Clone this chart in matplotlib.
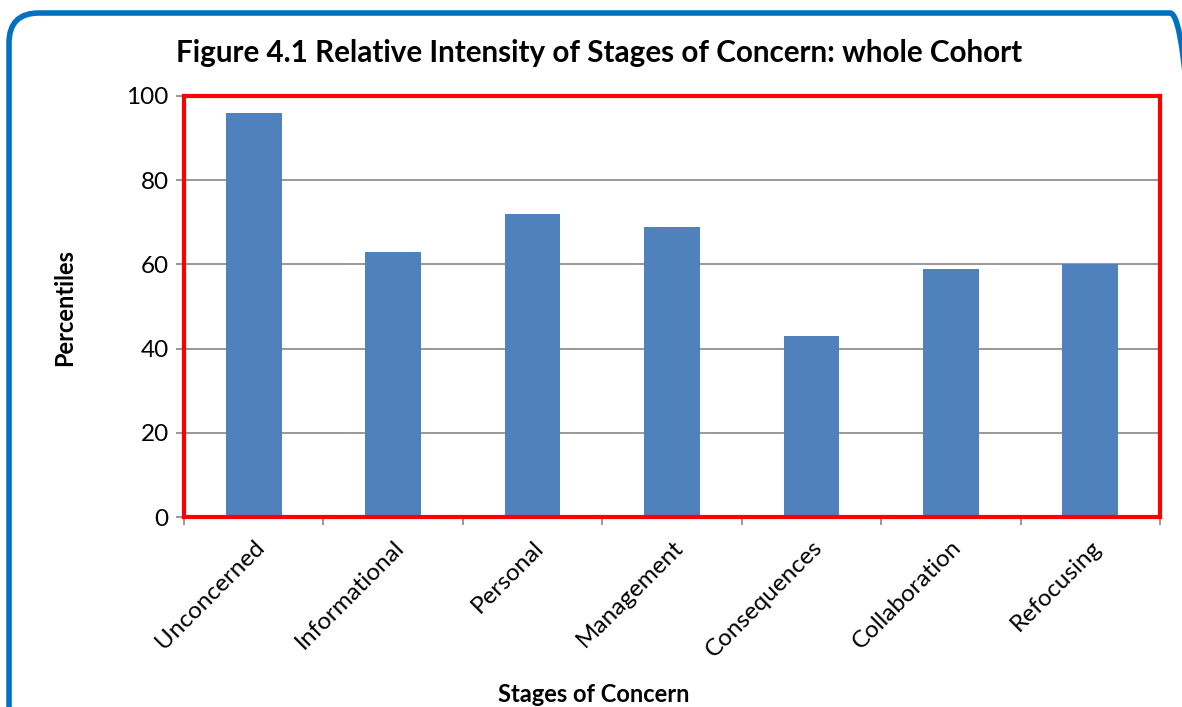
import matplotlib.pyplot as plt
from matplotlib.patches import FancyBboxPatch
from matplotlib.transforms import IdentityTransform
import numpy as np

# Chart data
stages = ['Unconcerned', 'Informational', 'Personal', 'Management',
          'Consequences', 'Collaboration', 'Refocusing']
percentiles = [96, 63, 72, 69, 43, 59, 60]
y_ticks = [0, 20, 40, 60, 80, 100]

plt.rcParams['font.family'] = ['Lato', 'DejaVu Sans']

fig = plt.figure(figsize=(11.82, 7.07), dpi=100)

# rounded blue frame around the whole chart, in pixels (runs off right/bottom edge)
frame = FancyBboxPatch((9, -30), 1200 - 9, 707 - 13 + 30,
                       boxstyle='round,pad=0,rounding_size=30',
                       transform=IdentityTransform(), fill=False,
                       edgecolor='#0070C0', linewidth=4, clip_on=False)
fig.patches.append(frame)

ax = fig.add_axes([184 / 1182, 1 - 517 / 707, (1160 - 184) / 1182, (517 - 96) / 707])

x = np.arange(len(stages))
ax.bar(x, percentiles, width=0.4, color='#4F81BD', zorder=3)

ax.set_xlim(-0.5, len(stages) - 0.5)
ax.set_ylim(0, 100)
ax.set_yticks(y_ticks)
ax.yaxis.grid(True, color='#868686', linewidth=1.2, zorder=0)

ax.set_xticks(x)
ax.set_xticklabels(stages, rotation=45, ha='right', rotation_mode='anchor', fontsize=17.5)
ax.set_xticks(np.arange(-0.5, len(stages)), minor=True)
ax.tick_params(axis='x', which='major', length=0, pad=14)
ax.tick_params(axis='x', which='minor', length=6, color='#868686', width=1.2, direction='out')
ax.tick_params(axis='y', length=6, color='#868686', width=1.2, labelsize=17.5, pad=5)

for s in ax.spines.values():
    s.set_color('red')
    s.set_linewidth(3)
    s.set_zorder(4)

# axis titles placed as in the reference (x title is off-centre)
fig.text(65 / 1182, 1 - 307 / 707, 'Percentiles', rotation=90, ha='center', va='center',
         fontsize=17, fontweight='bold')
fig.text(594 / 1182, 1 - 695 / 707, 'Stages of Concern', ha='center', va='center',
         fontsize=17, fontweight='bold')
fig.text(599 / 1182, 1 - 53 / 707, 'Figure 4.1 Relative Intensity of Stages of Concern: whole Cohort',
         ha='center', va='center', fontsize=21.3, fontweight='bold')

plt.savefig('out.png', dpi=100)
